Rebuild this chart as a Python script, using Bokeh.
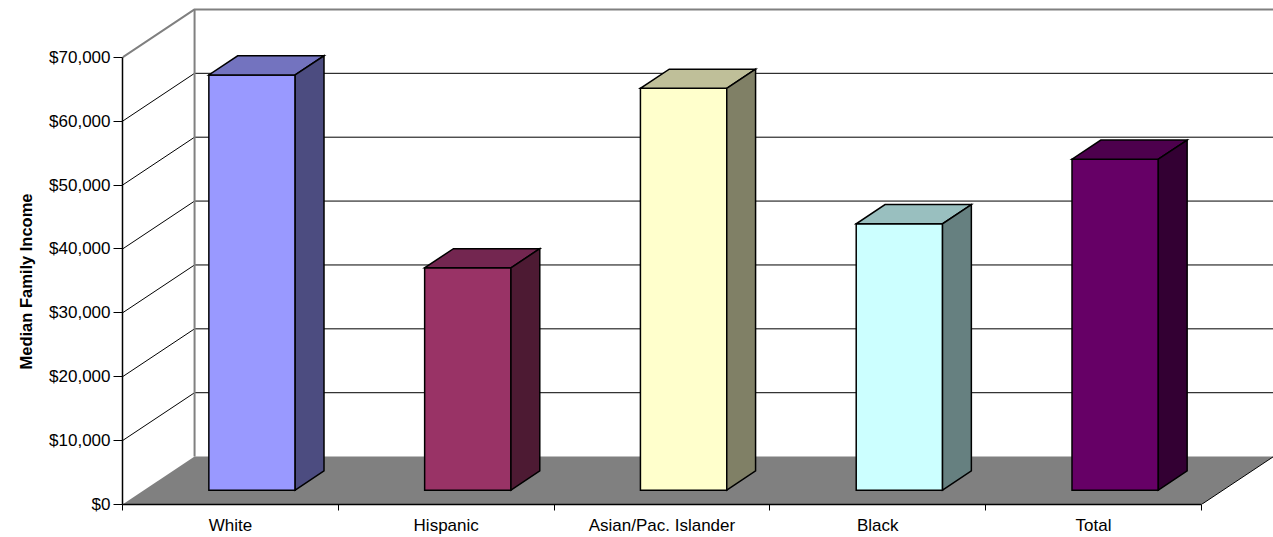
from bokeh.plotting import figure
from bokeh.models import Range1d, FixedTicker, NumeralTickFormatter, ColumnDataSource, Title
from bokeh.embed import file_html
from bokeh.resources import INLINE

# ---- data ----
categories = ["White", "Hispanic", "Asian/Pac. Islander", "Black", "Total"]
median_income = [65000, 34800, 62900, 41700, 51800]
front_colors = ["#9999FF", "#993366", "#FFFFCC", "#CCFFFF", "#660066"]
top_colors = ["#7373BF", "#732650", "#BFBF99", "#99BFBF", "#4D004D"]
side_colors = ["#4C4C80", "#4D1A33", "#808066", "#668080", "#330033"]
y_ticks = [0, 10000, 20000, 30000, 40000, 50000, 60000, 70000]
y_title = "Median Family Income"

# ---- 3D geometry (style constants) ----
DX = 0.334      # depth offset along x (data units)
DY = 7500       # depth offset along y (data units)
F1, F2 = 0.3, 0.7   # bar front/back depth fractions
HALF = 0.2      # half bar width
N = len(categories)
X0, X1 = -0.5, N - 0.5
YMAX = y_ticks[-1]
FONT = "Liberation Sans"

p = figure(width=1273, height=537,
           x_range=Range1d(X0, X1 + DX), y_range=Range1d(0, 78900),
           output_backend="svg", toolbar_location=None,
           min_border_left=122, min_border_right=0, min_border_top=0, min_border_bottom=32,
           background_fill_color="white", border_fill_color="white")
p.outline_line_color = None
p.xgrid.visible = False
p.ygrid.visible = False

# floor
p.patch([X0, X1, X1 + DX, X0 + DX], [0, 0, DY, DY], fill_color="#808080", line_color=None)
p.line([X1, X1 + DX], [0, DY], line_color="black", line_width=1)

# walls: gridlines
gx, gy = [], []
for v in y_ticks[1:-1]:
    gx.append([X0, X0 + DX, X1 + DX])
    gy.append([v, v + DY, v + DY])
p.multi_line(gx, gy, line_color="black", line_width=1)
# back wall left edge and top edges
p.line([X0 + DX, X0 + DX], [DY, YMAX + DY], line_color="#808080", line_width=2)
p.line([X0, X0 + DX, X1 + DX], [YMAX, YMAX + DY, YMAX + DY], line_color="#808080", line_width=2)

# bars
xs, ys, cols = [], [], []
for i, v in enumerate(median_income):
    fx0 = i - HALF + F1 * DX
    fx1 = i + HALF + F1 * DX
    fy0 = F1 * DY
    fy1 = v + F1 * DY
    bx = (F2 - F1) * DX
    by = (F2 - F1) * DY
    # front
    xs.append([fx0, fx1, fx1, fx0]); ys.append([fy0, fy0, fy1, fy1]); cols.append(front_colors[i])
    # top
    xs.append([fx0, fx1, fx1 + bx, fx0 + bx]); ys.append([fy1, fy1, fy1 + by, fy1 + by]); cols.append(top_colors[i])
    # side
    xs.append([fx1, fx1 + bx, fx1 + bx, fx1]); ys.append([fy0, fy0 + by, fy1 + by, fy1]); cols.append(side_colors[i])
src = ColumnDataSource(dict(xs=xs, ys=ys, c=cols))
p.patches("xs", "ys", source=src, fill_color="c", line_color="black", line_width=1.5, line_join="miter")

# x axis
xa = p.xaxis[0]
xa.ticker = FixedTicker(ticks=list(range(N)), minor_ticks=[k - 0.5 for k in range(N + 1)])
xa.major_label_overrides = {i: c for i, c in enumerate(categories)}
xa.bounds = (X0, X1)
xa.major_tick_out = 0
xa.major_tick_in = 0
xa.minor_tick_out = 6
xa.minor_tick_in = 0
xa.minor_tick_line_color = "black"
xa.axis_line_color = "black"
xa.axis_line_width = 1.5
xa.major_label_standoff = 5
xa.major_label_text_font = FONT
xa.major_label_text_font_size = "17px"
xa.major_label_text_color = "black"

# y axis
ya = p.yaxis[0]
ya.ticker = FixedTicker(ticks=y_ticks)
ya.formatter = NumeralTickFormatter(format="$0,0")
ya.bounds = (0, YMAX)
ya.major_tick_out = 9
ya.major_tick_in = 0
ya.minor_tick_line_color = None
ya.axis_line_color = "black"
ya.axis_line_width = 1.5
ya.major_label_standoff = 3
ya.major_label_text_font = FONT
ya.major_label_text_font_size = "17px"
ya.major_label_text_color = "black"

# y-axis title (placed below the frame's centre, as in the original)
t = Title(text=y_title, align="left", offset=135, standoff=20,
          vertical_align="top", text_baseline="top",
          text_font=FONT, text_font_size="16.5px", text_font_style="bold", text_color="black")
p.add_layout(t, "left")

open("out.html", "w").write(file_html(p, INLINE))
